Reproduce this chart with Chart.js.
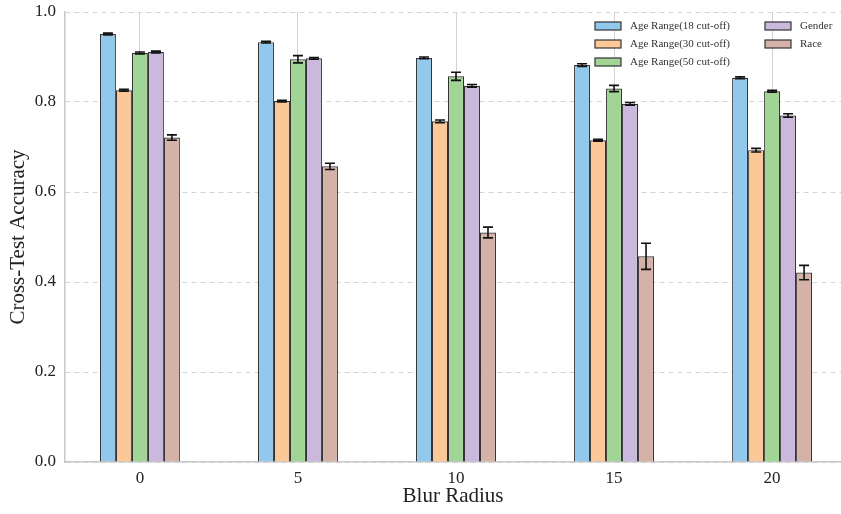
<!DOCTYPE html>
<html>
<head>
<meta charset="utf-8">
<script src="https://cdn.jsdelivr.net/npm/chart.js@4.4.1/dist/chart.umd.min.js"></script>
<style>
  html, body { margin: 0; padding: 0; background: #fff; }
  #wrap { width: 841px; height: 514px; }
</style>
</head>
<body>
<div id="wrap"><canvas id="chart"></canvas></div>
<script>
// values
const blurRadius = [0, 5, 10, 15, 20];
const yTicks = [0, 0.2, 0.4, 0.6, 0.8, 1.0];
const seriesNames = ["Age Range(18 cut-off)", "Age Range(30 cut-off)", "Age Range(50 cut-off)", "Gender", "Race"];

const age18 = [0.951, 0.933, 0.898, 0.882, 0.854];
const age18Err = [0.002, 0.002, 0.002, 0.003, 0.002];
const age30 = [0.826, 0.802, 0.757, 0.715, 0.693];
const age30Err = [0.002, 0.002, 0.003, 0.002, 0.004];
const age50 = [0.909, 0.895, 0.857, 0.830, 0.824];
const age50Err = [0.002, 0.008, 0.009, 0.007, 0.002];
const gender = [0.911, 0.897, 0.836, 0.796, 0.770];
const genderErr = [0.002, 0.002, 0.003, 0.003, 0.004];
const race = [0.721, 0.657, 0.510, 0.457, 0.421];
const raceErr = [0.006, 0.007, 0.012, 0.029, 0.016];

const colours = ["#92c8ec", "#fdc897", "#a0d596", "#cab8dd", "#d4b2a8"];
const serif = "'Liberation Serif', 'DejaVu Serif', serif";

const values = [age18, age30, age50, gender, race];
const errors = [age18Err, age30Err, age50Err, genderErr, raceErr];

const datasets = values.map((vals, i) => ({
    label: seriesNames[i],
    data: vals.map((v, j) => ({ x: blurRadius[j], y: v })),
    errors: errors[i],
    backgroundColor: colours[i],
    borderColor: "#333",
    borderWidth: 1.2,
    barPercentage: 1,
    categoryPercentage: 0.506
}));

const errorBars = {
    id: "errorBars",
    afterDatasetsDraw(chart) {
        const ctx = chart.ctx;
        const y = chart.scales.y;
        ctx.save();
        ctx.strokeStyle = "#111";
        ctx.lineWidth = 1.6;
        chart.data.datasets.forEach((ds, i) => {
            const meta = chart.getDatasetMeta(i);
            meta.data.forEach((bar, j) => {
                const v = ds.data[j].y, e = ds.errors[j];
                const top = y.getPixelForValue(v + e);
                const bot = y.getPixelForValue(v - e);
                ctx.beginPath();
                ctx.moveTo(bar.x, top); ctx.lineTo(bar.x, bot);
                ctx.moveTo(bar.x - 5, top); ctx.lineTo(bar.x + 5, top);
                ctx.moveTo(bar.x - 5, bot); ctx.lineTo(bar.x + 5, bot);
                ctx.stroke();
            });
        });
        ctx.restore();
    }
};

// two-column legend in the upper right, filled column by column
const columnLegend = {
    id: "columnLegend",
    afterDraw(chart) {
        const ctx = chart.ctx;
        const area = chart.chartArea;
        const cols = [area.right - 246, area.right - 76];
        ctx.save();
        ctx.font = "11px " + serif;
        ctx.textBaseline = "middle";
        chart.data.datasets.forEach((ds, i) => {
            const col = i < 3 ? 0 : 1;
            const row = i < 3 ? i : i - 3;
            const bx = cols[col], by = area.top + 14 + row * 18;
            ctx.fillStyle = ds.backgroundColor;
            ctx.fillRect(bx, by - 4, 26, 8);
            ctx.strokeStyle = "#333";
            ctx.lineWidth = 1.2;
            ctx.strokeRect(bx, by - 4, 26, 8);
            ctx.fillStyle = "#333";
            ctx.fillText(ds.label, bx + 35, by);
        });
        ctx.restore();
    }
};

new Chart(document.getElementById("chart"), {
    type: "bar",
    data: { datasets: datasets },
    plugins: [errorBars, columnLegend],
    options: {
        responsive: true,
        maintainAspectRatio: false,
        animation: false,
        layout: { padding: { top: 12, right: 0, left: 0, bottom: 0 } },
        plugins: { legend: { display: false }, tooltip: { enabled: false } },
        scales: {
            x: {
                type: "linear",
                offset: false,
                min: -2.37,
                max: 22.18,
                afterBuildTicks: s => { s.ticks = blurRadius.map(v => ({ value: v })); },
                afterFit: s => { s.height = 52; s.paddingLeft = 0; s.paddingRight = 0; },
                ticks: {
                    font: { family: serif, size: 17 },
                    color: "#222",
                    padding: 6,
                    maxRotation: 0,
                    callback: v => String(v)
                },
                grid: { offset: false, color: "#d2d2d2", lineWidth: 1, drawTicks: false },
                border: { color: "#c8c8c8", width: 1.5 },
                title: {
                    display: true,
                    text: "Blur Radius",
                    font: { family: serif, size: 21 },
                    color: "#222",
                    padding: { top: 0, bottom: 5 }
                }
            },
            y: {
                min: 0,
                max: 1,
                afterBuildTicks: s => { s.ticks = yTicks.map(v => ({ value: v })); },
                afterFit: s => { s.width = 65; s.paddingTop = 0; s.paddingBottom = 0; },
                ticks: {
                    font: { family: serif, size: 17 },
                    color: "#222",
                    padding: 9,
                    callback: v => v.toFixed(1)
                },
                grid: { color: "#d4d4d4", lineWidth: 1, drawTicks: false },
                border: { color: "#c8c8c8", width: 1.5, dash: [5, 4] },
                title: {
                    display: true,
                    text: "Cross-Test Accuracy",
                    font: { family: serif, size: 21 },
                    color: "#222",
                    padding: { top: 6, bottom: 0 }
                }
            }
        }
    }
});
</script>
</body>
</html>
